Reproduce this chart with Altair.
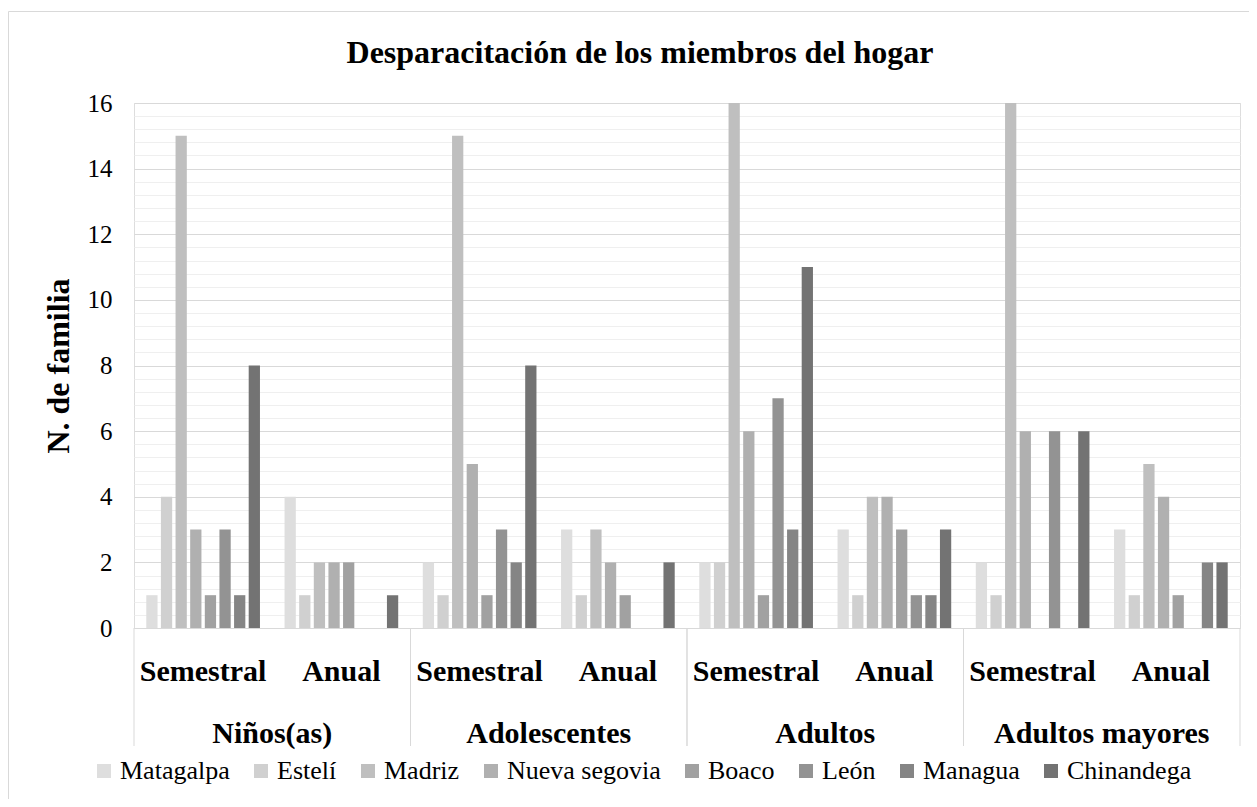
import altair as alt
import pandas as pd

title_text = ["Desparacitación de los miembros del hogar"]
regions = ["Matagalpa", "Estelí", "Madriz", "Nueva segovia", "Boaco", "León", "Managua", "Chinandega"]
groups = ["Niños(as)", "Adolescentes", "Adultos", "Adultos mayores"]
periods = ["Semestral", "Anual"]

# values in order: Niños S, Niños A, Adol S, Adol A, Adultos S, Adultos A, Mayores S, Mayores A
matagalpa = [1, 4, 2, 3, 2, 3, 2, 3]
esteli = [4, 1, 1, 1, 2, 1, 1, 1]
madriz = [15, 2, 15, 3, 16, 4, 16, 5]
nueva_segovia = [3, 2, 5, 2, 6, 4, 6, 4]
boaco = [1, 2, 1, 1, 1, 3, 0, 1]
leon = [3, 0, 3, 0, 7, 1, 6, 0]
managua = [1, 0, 2, 0, 3, 1, 0, 2]
chinandega = [8, 1, 8, 2, 11, 3, 6, 2]

series = [matagalpa, esteli, madriz, nueva_segovia, boaco, leon, managua, chinandega]
colors = ["#dedede", "#d0d0d0", "#bfbfbf", "#b0b0b0", "#a1a1a1", "#939393", "#858585", "#737373"]

keys = [g + "|" + p for g in groups for p in periods]

rows = []
for r, vals in zip(regions, series):
    for k, v in zip(keys, vals):
        g, p = k.split("|")
        rows.append({"key": k, "group": g, "period": p, "region": r, "value": v})
df = pd.DataFrame(rows)

gdf = pd.DataFrame({"key": [g + "|Anual" for g in groups], "group": groups})
sdf = pd.DataFrame({"key": [g + "|Semestral" for g in groups]})
edf = pd.DataFrame({"key": [g + "|Anual" for g in groups]})
tdf = pd.DataFrame({"t": title_text})

FONT = "Liberation Serif, DejaVu Serif, serif"
W, H = 1106, 525

minor_vals = [round(i * 0.4, 1) for i in range(41) if i % 5 != 0]

xscale = alt.Scale(paddingInner=0, paddingOuter=0)
xaxis = alt.Axis(title=None, labelExpr="split(datum.label, '|')[1]", labelFontSize=30,
                 labelFont=FONT, labelFontWeight="bold", labelColor="black",
                 labelPadding=52, labelBaseline="alphabetic", ticks=False,
                 domainColor="#d9d9d9", labelAngle=0, labelOverlap=False, labelLimit=0)

frame = alt.Chart(tdf).mark_rect(fillOpacity=0, stroke="#d9d9d9", strokeWidth=1).encode(
    x=alt.value(-125.5), x2=alt.value(2000), y=alt.value(-91.5), y2=alt.value(2000),
)

title = alt.Chart(tdf).mark_text(font=FONT, fontSize=32, fontWeight="bold", color="black",
                                 baseline="alphabetic", align="center").encode(
    x=alt.value(506), y=alt.value(-40), text="t:N",
)

minor = alt.Chart(df).mark_bar(opacity=0).encode(
    x=alt.X("key:N", sort=keys, scale=xscale, axis=xaxis),
    y=alt.Y("value:Q", scale=alt.Scale(domain=[0, 16], nice=False),
            axis=alt.Axis(orient="left", values=minor_vals, grid=True, gridColor="#efefef",
                          labels=False, ticks=False, domain=False, title=None)),
)

bars = alt.Chart(df).mark_bar().encode(
    x=alt.X("key:N", sort=keys, scale=xscale, axis=xaxis),
    xOffset=alt.XOffset("region:N", sort=regions, scale=alt.Scale(paddingInner=0.23, paddingOuter=0.84)),
    y=alt.Y("value:Q", scale=alt.Scale(domain=[0, 16], nice=False),
            axis=alt.Axis(orient="left", values=list(range(0, 17, 2)), grid=True, gridColor="#d9d9d9",
                          ticks=False, domain=False, labelFontSize=25, labelFont=FONT,
                          labelColor="black", labelPadding=22, title="N. de familia",
                          titleFontSize=32, titleFont=FONT, titleFontWeight="bold",
                          titleColor="black", titlePadding=12)),
    color=alt.Color("region:N", sort=regions, scale=alt.Scale(domain=regions, range=colors),
                    legend=alt.Legend(title=None, orient="none", legendX=-43, legendY=655,
                                      direction="horizontal", labelFontSize=26, labelFont=FONT,
                                      labelColor="black", symbolType="square", symbolSize=196,
                                      symbolStrokeWidth=0, columnPadding=18, labelOffset=3)),
)

group_text = alt.Chart(gdf).mark_text(font=FONT, fontSize=30, fontWeight="bold", color="black",
                                      baseline="alphabetic", align="center").encode(
    x=alt.X("key:N", sort=keys, scale=xscale, bandPosition=0, axis=xaxis),
    y=alt.value(640),
    text="group:N",
)

sep_start = alt.Chart(sdf).mark_rule(color="#d9d9d9", strokeWidth=1).encode(
    x=alt.X("key:N", sort=keys, scale=xscale, bandPosition=0, axis=xaxis),
    y=alt.value(H), y2=alt.value(H + 118),
)
sep_end = alt.Chart(edf).mark_rule(color="#d9d9d9", strokeWidth=1).encode(
    x=alt.X("key:N", sort=keys, scale=xscale, bandPosition=1, axis=xaxis),
    y=alt.value(H), y2=alt.value(H + 118),
)

chart = alt.layer(frame, minor, bars, sep_start, sep_end, group_text, title).resolve_axis(
    y="independent"
).properties(
    width=W, height=H,
    autosize=alt.AutoSizeParams(type="none"),
    padding={"left": 126, "top": 95, "right": 9, "bottom": 171},
).configure_view(strokeWidth=0).configure(font=FONT)

chart.save("out.html", embed_options={"renderer": "svg", "actions": False})
